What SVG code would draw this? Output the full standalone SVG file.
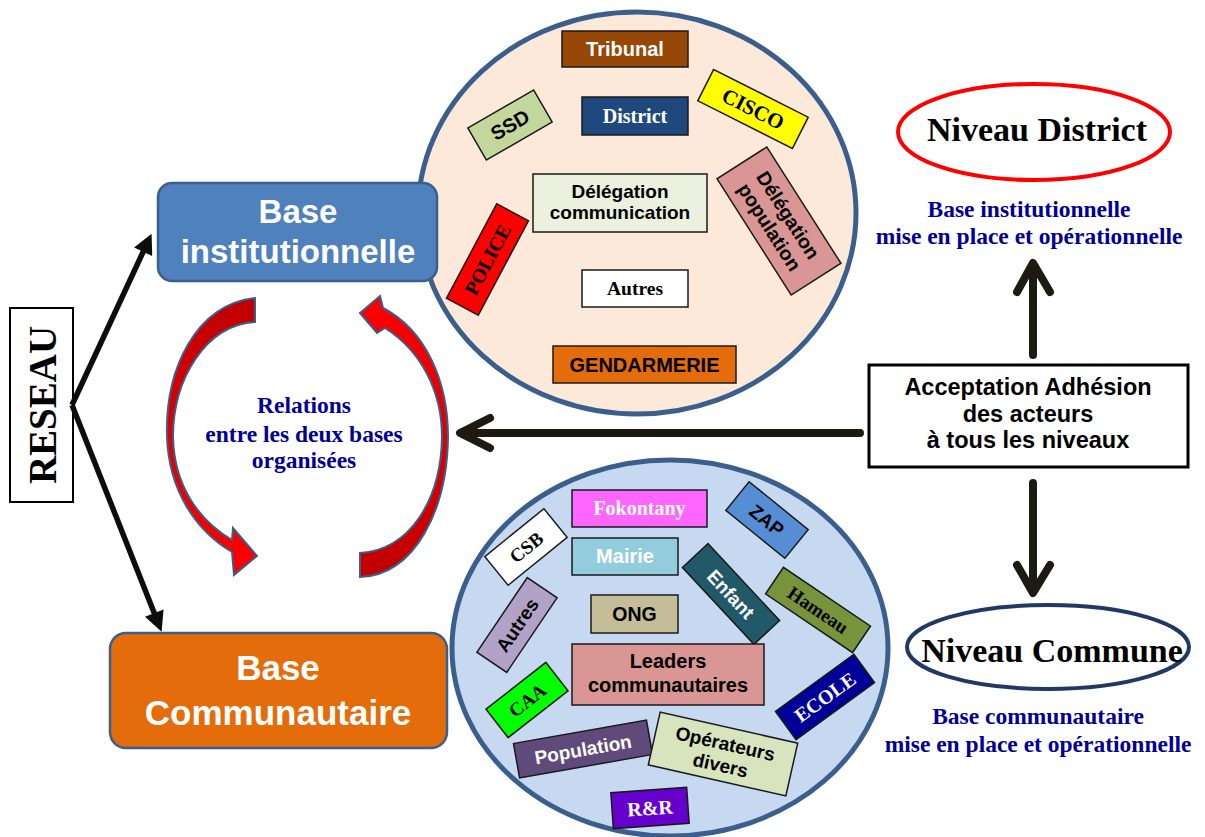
<svg xmlns="http://www.w3.org/2000/svg" width="1205" height="837" viewBox="0 0 1205 837">
<defs>
<style>
.ab{font-family:"Liberation Sans",Arial,sans-serif;font-weight:bold}
.tb{font-family:"Liberation Serif","Times New Roman",serif;font-weight:bold}
.box{stroke:#1a1a1a;stroke-width:1.5}
.blk{fill:#000}
.wht{fill:#fff}
.navy{fill:#000099}
.thick{fill:none;stroke:#1d1a12;stroke-width:8;stroke-linecap:round;stroke-linejoin:round}
.thin{fill:none;stroke:#0d0d0d;stroke-width:5.5}
.redarr{stroke:#3b5f8d;stroke-width:2}
</style>
<marker id="tri" viewBox="0 0 10 10" refX="1" refY="5" markerWidth="22" markerHeight="20" markerUnits="userSpaceOnUse" orient="auto">
<path d="M0,0 L10,5 L0,10 z" fill="#0d0d0d"/>
</marker>
<linearGradient id="gL" x1="0" y1="0" x2="0" y2="1">
<stop offset="0" stop-color="#c00000"/>
<stop offset="0.55" stop-color="#e00000"/>
<stop offset="1" stop-color="#ff0000"/>
</linearGradient>
<linearGradient id="gR" x1="0" y1="1" x2="0" y2="0">
<stop offset="0" stop-color="#c00000"/>
<stop offset="0.55" stop-color="#e00000"/>
<stop offset="1" stop-color="#ff0000"/>
</linearGradient>
</defs>
<rect width="1205" height="837" fill="#fff"/>

<g id="cercle-institutionnel">
<ellipse cx="637" cy="213" rx="219" ry="201" fill="#fde9d9" stroke="#3b5f8d" stroke-width="5"/>
</g>
<g id="cercle-communautaire">
<ellipse cx="670" cy="648" rx="218" ry="188" fill="#c6d9f1" stroke="#3b5f8d" stroke-width="5"/>
</g>

<g id="tribunal"><rect class="box" x="562" y="31" width="126" height="36" fill="#974706"/><text class="ab wht" x="625" y="56" font-size="20" text-anchor="middle">Tribunal</text></g>
<g id="district"><rect class="box" x="582" y="97" width="106" height="38" fill="#1f497d"/><text class="tb wht" x="635" y="123" font-size="20" text-anchor="middle">District</text></g>
<g id="ssd" transform="translate(510,125) rotate(-30)"><rect class="box" x="-38" y="-18.5" width="76" height="37" fill="#c3d69b"/><text class="ab blk" x="0" y="7" font-size="20" text-anchor="middle">SSD</text></g>
<g id="cisco" transform="translate(753,109) rotate(26.8)"><rect class="box" x="-53" y="-17.5" width="106" height="35" fill="#ffff00"/><text class="tb blk" x="0" y="7" font-size="21" text-anchor="middle">CISCO</text></g>
<g id="delegation-communication"><rect class="box" x="533" y="174" width="174" height="58" fill="#ebf1de"/><text class="ab blk" font-size="19" text-anchor="middle"><tspan x="620" y="198">Délégation</tspan><tspan x="620" y="219">communication</tspan></text></g>
<g id="delegation-population" transform="translate(779,221) rotate(57.5)"><rect class="box" x="-69" y="-29.5" width="138" height="59" fill="#d99694"/><text class="ab blk" font-size="19.5" text-anchor="middle"><tspan x="0" y="-4">Délégation</tspan><tspan x="0" y="18">population</tspan></text></g>
<g id="police" transform="translate(487.5,259.5) rotate(-62)"><rect class="box" x="-53.5" y="-18" width="107" height="36" fill="#ff0000"/><text class="tb blk" x="0" y="7" font-size="20" text-anchor="middle">POLICE</text></g>
<g id="autres-inst"><rect class="box" x="582" y="270" width="106" height="37" fill="#ffffff"/><text class="tb blk" x="635" y="295" font-size="19.5" text-anchor="middle">Autres</text></g>
<g id="gendarmerie"><rect class="box" x="553" y="346" width="183" height="37" fill="#e46c0a"/><text class="ab blk" x="644.5" y="372" font-size="20" text-anchor="middle">GENDARMERIE</text></g>

<g id="fokontany"><rect class="box" x="572" y="490" width="135" height="37" fill="#ff66ff"/><text class="tb wht" x="639.5" y="515" font-size="20" text-anchor="middle">Fokontany</text></g>
<g id="mairie"><rect class="box" x="572" y="538" width="106" height="37" fill="#93cddd"/><text class="ab wht" x="625" y="563" font-size="20" text-anchor="middle">Mairie</text></g>
<g id="ong"><rect class="box" x="591" y="595" width="87" height="38" fill="#c4bd97"/><text class="ab blk" x="634.5" y="621" font-size="19.5" text-anchor="middle">ONG</text></g>
<g id="zap" transform="translate(767,520) rotate(39)"><rect class="box" x="-38" y="-18.5" width="76" height="37" fill="#558ed5"/><text class="ab blk" x="0" y="7" font-size="19" text-anchor="middle">ZAP</text></g>
<g id="csb" transform="translate(526,547) rotate(-39)"><rect class="box" x="-38" y="-18.5" width="76" height="37" fill="#ffffff"/><text class="tb blk" x="0" y="7" font-size="19" text-anchor="middle">CSB</text></g>
<g id="enfant" transform="translate(731,594) rotate(47)"><rect class="box" x="-52.5" y="-17.5" width="105" height="35" fill="#215968"/><text class="ab wht" x="0" y="7" font-size="19" text-anchor="middle">Enfant</text></g>
<g id="hameau" transform="translate(818,610) rotate(34)"><rect class="box" x="-52.5" y="-16" width="105" height="32" fill="#77933c"/><text class="tb blk" x="0" y="6.5" font-size="19" text-anchor="middle">Hameau</text></g>
<g id="autres-comm" transform="translate(517,625) rotate(-56)"><rect class="box" x="-45" y="-18" width="90" height="36" fill="#b3a2c7"/><text class="ab blk" x="0" y="7" font-size="19" text-anchor="middle">Autres</text></g>
<g id="leaders"><rect class="box" x="572" y="644" width="192" height="61" fill="#d99694"/><text class="ab blk" font-size="20" text-anchor="middle"><tspan x="668" y="668">Leaders</tspan><tspan x="668" y="692">communautaires</tspan></text></g>
<g id="caa" transform="translate(527,700) rotate(-38)"><rect class="box" x="-38" y="-18" width="76" height="36" fill="#00ff00"/><text class="tb blk" x="0" y="7" font-size="19" text-anchor="middle">CAA</text></g>
<g id="ecole" transform="translate(825,697) rotate(-36)"><rect class="box" x="-48.5" y="-17.5" width="97" height="35" fill="#000099"/><text class="tb wht" x="0" y="7" font-size="20" text-anchor="middle">ECOLE</text></g>
<g id="population" transform="translate(583,749) rotate(-10)"><rect class="box" x="-67.5" y="-17.5" width="135" height="35" fill="#604a7b"/><text class="ab wht" x="0" y="7" font-size="19" text-anchor="middle">Population</text></g>
<g id="operateurs" transform="translate(723,754) rotate(12.7)"><rect class="box" x="-70.5" y="-27" width="141" height="54" fill="#d7e4bd"/><text class="ab blk" font-size="19" text-anchor="middle"><tspan x="0" y="-4">Opérateurs</tspan><tspan x="0" y="18">divers</tspan></text></g>
<g id="rr" transform="translate(650,808) rotate(-4)"><rect class="box" x="-38" y="-18" width="76" height="36" fill="#6600cc"/><text class="tb wht" x="0" y="7" font-size="20" text-anchor="middle">R&amp;R</text></g>

<g id="base-institutionnelle"><rect x="158" y="183" width="279" height="98" rx="14" fill="#4f81bd" stroke="#3b5f8d" stroke-width="2.5"/><text class="ab wht" font-size="33" text-anchor="middle"><tspan x="298" y="223">Base</tspan><tspan x="298" y="263">institutionnelle</tspan></text></g>
<g id="base-communautaire"><rect x="110" y="633" width="337" height="115" rx="16" fill="#e46c0a" stroke="#3b5f8d" stroke-width="2.5"/><text class="ab wht" font-size="35" text-anchor="middle"><tspan x="278" y="680">Base</tspan><tspan x="278" y="725">Communautaire</tspan></text></g>
<g id="reseau"><rect x="10" y="308" width="63" height="194" fill="#fff" stroke="#000" stroke-width="2"/><text class="tb blk" font-size="39" text-anchor="middle" transform="translate(56,405) rotate(-90)" x="0" y="0">RESEAU</text></g>

<g id="relations"><text class="tb navy" font-size="23.5" text-anchor="middle"><tspan x="304" y="413">Relations</tspan><tspan x="304" y="442">entre les deux bases</tspan><tspan x="304" y="468">organisées</tspan></text></g>

<g id="niveau-district"><ellipse cx="1034" cy="132" rx="136" ry="48" fill="#fff" stroke="#ff0000" stroke-width="4"/><text class="tb blk" x="1037" y="141" font-size="34" text-anchor="middle">Niveau District</text></g>
<g id="texte-district"><text class="tb navy" font-size="23.5" text-anchor="middle"><tspan x="1029" y="217">Base institutionnelle</tspan><tspan x="1029" y="244">mise en place et opérationnelle</tspan></text></g>
<g id="acceptation"><rect x="869" y="365" width="319" height="102" fill="#fff" stroke="#000" stroke-width="3"/><text class="ab blk" font-size="23.5" text-anchor="middle"><tspan x="1028" y="395">Acceptation Adhésion</tspan><tspan x="1028" y="422">des acteurs</tspan><tspan x="1028" y="448">à tous les niveaux</tspan></text></g>
<g id="niveau-commune"><ellipse cx="1048" cy="647" rx="141" ry="42" fill="#fff" stroke="#203864" stroke-width="4"/><text class="tb blk" x="1052" y="662" font-size="34" text-anchor="middle">Niveau Commune</text></g>
<g id="texte-commune"><text class="tb navy" font-size="23.5" text-anchor="middle"><tspan x="1038" y="724">Base communautaire</tspan><tspan x="1038" y="752">mise en place et opérationnelle</tspan></text></g>

<g id="connecteurs">
<line class="thin" x1="72" y1="405" x2="144" y2="250" marker-end="url(#tri)"/>
<line class="thin" x1="72" y1="405" x2="155" y2="615" marker-end="url(#tri)"/>
<path class="thick" d="M860,433 L462,433 M490,418 L460,433 L490,448"/>
<path class="thick" d="M1033,355 L1033,266 M1017,292 L1033,263 L1050,292"/>
<path class="thick" d="M1033,483 L1033,590 M1017,565 L1033,593 L1050,565"/>
<path class="redarr" fill="url(#gL)" d="M255,298 C195,305 165,370 167,437 C169,490 195,530 232,552 L234,575 L257,556 L233,528 L232,540 C198,520 174,485 173,437 C173,380 205,325 255,322 Z"/>
<path class="redarr" fill="url(#gR)" d="M360,577 C415,575 447,510 448,437 C448,380 425,330 383,308 L380,296 L360,313 L377,333 L385,328 C420,350 442,390 442,437 C441,500 410,550 360,553 Z"/>
</g>
</svg>
